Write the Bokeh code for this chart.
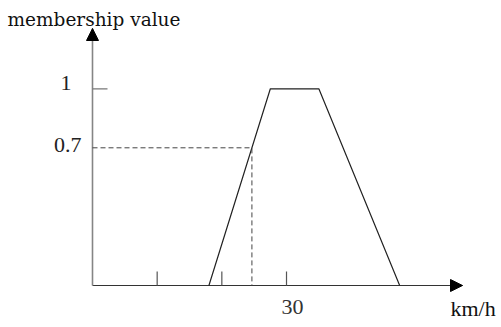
import numpy as np
from bokeh.plotting import figure
from bokeh.models import Arrow, NormalHead
from bokeh.embed import file_html
from bokeh.resources import INLINE

# ---- data ----
mf_x = [18, 27.5, 35, 47.5]          # km/h
mf_y = [0, 1, 1, 0]                  # membership value
x_ticks = [10, 20, 30]
x_tick_labels = ["", "", "30"]
y_ticks = [1]
y_tick_labels_pos = [1, 0.7]
y_tick_labels = ["1", "0.7"]
level = 0.7
x_title = "km/h"
y_title = "membership value"

# ---- layout / scale (pixels) ----
W, H = 501, 327
OX, OY = 92, 285          # pixel position of the origin
SX, SY = 6.467, 196.7     # pixels per data unit
X_TIP = (462 - OX) / SX   # end of x axis arrow
Y_TIP = (OY - 28) / SY    # end of y axis arrow
TICK_X_LEN = 14 / SY
TICK_Y_LEN = 15 / SX

NUM_FONT = "Liberation Serif"
TITLE_FONT = "DejaVu Serif"

p = figure(width=W, height=H, output_backend="svg", toolbar_location=None,
           x_range=(-OX / SX, (W - OX) / SX), y_range=(-(H - OY) / SY, OY / SY),
           x_axis_type=None, y_axis_type=None,
           min_border=0, min_border_left=0, min_border_right=0,
           min_border_top=0, min_border_bottom=0)
p.outline_line_color = None
p.grid.visible = False
p.background_fill_color = "white"
p.border_fill_color = "white"

# axes lines
p.line([0, X_TIP], [0, 0], line_color="#333333", line_width=1.2)
p.line([0, 0], [0, Y_TIP], line_color="#858585", line_width=1.6)

# ticks
p.segment(x0=x_ticks, y0=[0] * len(x_ticks), x1=x_ticks, y1=[TICK_X_LEN] * len(x_ticks),
          line_color="#555555", line_width=1.2)
p.segment(x0=[0] * len(y_ticks), y0=y_ticks, x1=[TICK_Y_LEN] * len(y_ticks), y1=y_ticks,
          line_color="#777777", line_width=1.3)

# tick labels
p.text(x=x_ticks, y=[0] * len(x_ticks), text=x_tick_labels, x_offset=6, y_offset=21,
       text_align="center", text_baseline="alphabetic", text_font_size="22px",
       text_font={"value": NUM_FONT}, text_color="#333333")
p.text(x=[0] * len(y_tick_labels), y=y_tick_labels_pos, text=y_tick_labels,
       x_offset=[-21, -11], y_offset=[-6, -3],
       text_align="right", text_baseline="alphabetic", text_font_size="22px",
       text_font={"value": NUM_FONT}, text_color="#222222")

# membership function
p.line(mf_x, mf_y, line_color="#222222", line_width=1.2)

# dashed guide at level
x_cut = float(np.interp(level, mf_y[:2], mf_x[:2]))
p.line([0, x_cut, x_cut], [level, level, 0], line_color="#444444", line_width=1,
       line_dash="5 3")

# arrow heads
p.add_layout(Arrow(x_start=X_TIP - 1, y_start=0, x_end=X_TIP, y_end=0, line_alpha=0,
                   end=NormalHead(size=12, fill_color="black", line_color="black", line_width=1)))
p.add_layout(Arrow(x_start=0, y_start=Y_TIP - 0.05, x_end=0, y_end=Y_TIP, line_alpha=0,
                   end=NormalHead(size=12, fill_color="black", line_color="black", line_width=1)))

# axis titles
p.text(x=[0], y=[Y_TIP], text=[y_title], x_offset=-85, y_offset=-9.5,
       text_align="left", text_baseline="alphabetic", text_font_size="18.5px",
       text_font={"value": TITLE_FONT}, text_color="#111111")
p.text(x=[X_TIP], y=[0], text=[x_title], x_offset=-12, y_offset=23,
       text_align="left", text_baseline="alphabetic", text_font_size="22px",
       text_font={"value": NUM_FONT}, text_color="#111111")

open("out.html", "w").write(file_html(p, INLINE))
